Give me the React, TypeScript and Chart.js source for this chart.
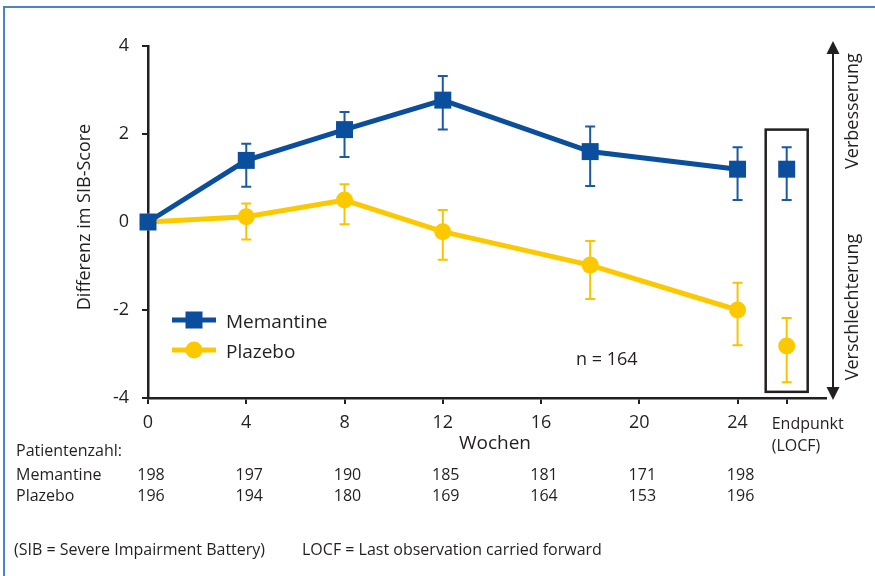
import React, { useEffect, useRef } from 'react';
import { Chart, registerables } from 'chart.js';

Chart.register(...registerables);

// ---- data ----
const weeks = [0, 4, 8, 12, 18, 24];
const memantineMean = [0, 1.4, 2.1, 2.77, 1.6, 1.2];
const memantineLow = [0, 0.8, 1.48, 2.1, 0.82, 0.5];
const memantineHigh = [0, 1.78, 2.5, 3.32, 2.17, 1.7];
const plazeboMean = [0, 0.12, 0.5, -0.22, -0.98, -2.0];
const plazeboLow = [0, -0.4, -0.05, -0.86, -1.75, -2.8];
const plazeboHigh = [0, 0.42, 0.86, 0.27, -0.43, -1.38];

const endpointX = 26;
const memantineEnd = [1.2];
const memantineEndLow = [0.5];
const memantineEndHigh = [1.7];
const plazeboEnd = [-2.82];
const plazeboEndLow = [-3.64];
const plazeboEndHigh = [-2.18];

const xTicks = [0, 4, 8, 12, 16, 20, 24];
const tableWeeks = [0, 4, 8, 12, 16, 20, 24];
const memantineN = [198, 197, 190, 185, 181, 171, 198];
const plazeboN = [196, 194, 180, 169, 164, 153, 196];

const seriesNames = ['Memantine', 'Plazebo'];

// ---- styles ----
const BLUE = '#0b4f9c';
const BLUE_ERR = '#1a5aa5';
const YELLOW = '#fcc900';
const YELLOW_ERR = '#f7c500';
const TEXT = '#231f20';
const AXIS = '#231f20';
const FRAME = '#4a84c4';
const FONT = "'Open Sans', 'Noto Sans', sans-serif";

const f = (size: number) => `${size}px ${FONT}`;

const overlay = {
  id: 'overlay',
  beforeDraw(chart: any) {
    const { ctx, width, height } = chart;
    ctx.save();
    ctx.fillStyle = '#ffffff';
    ctx.fillRect(0, 0, width, height);
    ctx.strokeStyle = FRAME;
    ctx.lineWidth = 2;
    ctx.beginPath();
    ctx.moveTo(4, height);
    ctx.lineTo(4, 7);
    ctx.lineTo(width, 7);
    ctx.stroke();
    ctx.restore();
  },
  beforeDatasetsDraw(chart: any) {
    const { ctx } = chart;
    const xs = chart.scales.x;
    const ys = chart.scales.y;
    ctx.save();
    chart.data.datasets.forEach((ds: any) => {
      ctx.strokeStyle = ds.errColor;
      ctx.lineWidth = 2;
      ds.data.forEach((p: any, i: number) => {
        const lo = ds.errLow[i];
        const hi = ds.errHigh[i];
        if (lo === hi) return;
        const x = xs.getPixelForValue(p.x);
        const y1 = ys.getPixelForValue(lo);
        const y2 = ys.getPixelForValue(hi);
        ctx.beginPath();
        ctx.moveTo(x, y1);
        ctx.lineTo(x, y2);
        ctx.moveTo(x - 5, y1);
        ctx.lineTo(x + 5, y1);
        ctx.moveTo(x - 5, y2);
        ctx.lineTo(x + 5, y2);
        ctx.stroke();
      });
    });
    ctx.restore();
  },
  afterDraw(chart: any) {
    const { ctx, chartArea } = chart;
    const xs = chart.scales.x;
    const ys = chart.scales.y;
    ctx.save();

    // endpoint box
    const ex = xs.getPixelForValue(endpointX);
    ctx.strokeStyle = AXIS;
    ctx.lineWidth = 2.5;
    ctx.strokeRect(ex - 21, ys.getPixelForValue(2.1), 42, ys.getPixelForValue(-3.86) - ys.getPixelForValue(2.1));

    // double arrow
    const ax = chartArea.right + 7;
    const topY = ys.getPixelForValue(4) - 5;
    const botY = chartArea.bottom + 2;
    ctx.strokeStyle = AXIS;
    ctx.fillStyle = AXIS;
    ctx.lineWidth = 2;
    ctx.beginPath();
    ctx.moveTo(ax, topY + 10);
    ctx.lineTo(ax, botY - 10);
    ctx.stroke();
    ctx.beginPath();
    ctx.moveTo(ax, topY);
    ctx.lineTo(ax - 6.5, topY + 13);
    ctx.lineTo(ax + 6.5, topY + 13);
    ctx.closePath();
    ctx.fill();
    ctx.beginPath();
    ctx.moveTo(ax, botY);
    ctx.lineTo(ax - 6.5, botY - 13);
    ctx.lineTo(ax + 6.5, botY - 13);
    ctx.closePath();
    ctx.fill();

    ctx.fillStyle = TEXT;
    // rotated texts
    const rot = (text: string, x: number, y: number, size: number) => {
      ctx.save();
      ctx.translate(x, y);
      ctx.rotate(-Math.PI / 2);
      ctx.textAlign = 'center';
      ctx.textBaseline = 'middle';
      ctx.font = f(size);
      ctx.fillText(text, 0, 0);
      ctx.restore();
    };
    rot('Differenz im SIB-Score', 85, 217, 18);
    rot('Verbesserung', 853, 111, 18);
    rot('Verschlechterung', 853, 307, 18);

    ctx.textBaseline = 'alphabetic';
    // x title
    ctx.textAlign = 'center';
    ctx.font = f(19);
    ctx.fillText('Wochen', 495, 449);

    // endpoint label
    ctx.textAlign = 'left';
    ctx.font = f(16);
    ctx.fillText('Endpunkt', ex - 15, 429);
    ctx.fillText('(LOCF)', ex - 15, 451);

    // legend
    const legend = [
      { name: seriesNames[0], color: BLUE, style: 'rect', y: 320 },
      { name: seriesNames[1], color: YELLOW, style: 'circle', y: 350 },
    ];
    legend.forEach((l) => {
      ctx.strokeStyle = l.color;
      ctx.fillStyle = l.color;
      ctx.lineWidth = 5;
      ctx.beginPath();
      ctx.moveTo(172, l.y);
      ctx.lineTo(216, l.y);
      ctx.stroke();
      if (l.style === 'rect') {
        ctx.fillRect(194 - 8.5, l.y - 8.5, 17, 17);
      } else {
        ctx.beginPath();
        ctx.arc(194, l.y, 8.5, 0, Math.PI * 2);
        ctx.fill();
      }
      ctx.fillStyle = TEXT;
      ctx.font = f(19);
      ctx.textAlign = 'left';
      ctx.fillText(l.name, 226, l.y + 7.5);
    });

    ctx.font = f(18);
    ctx.fillText('n = 164', 576, 365);

    // patient table
    ctx.font = f(16);
    ctx.textAlign = 'left';
    ctx.fillText('Patientenzahl:', 16, 456);
    ctx.fillText(seriesNames[0], 16, 480);
    ctx.fillText(seriesNames[1], 16, 501);
    ctx.textAlign = 'center';
    tableWeeks.forEach((w, i) => {
      const x = xs.getPixelForValue(w) + 3;
      ctx.fillText(String(memantineN[i]), x, 480);
      ctx.fillText(String(plazeboN[i]), x, 501);
    });

    // footnote
    ctx.textAlign = 'left';
    ctx.fillText('(SIB = Severe Impairment Battery)', 14, 555);
    ctx.fillText('LOCF = Last observation carried forward', 302, 555);

    ctx.restore();
  },
};

export default function App() {
  const ref = useRef<HTMLCanvasElement>(null);

  useEffect(() => {
    if (!ref.current) return;
    Chart.defaults.font.family = FONT;
    Chart.defaults.color = TEXT;

    const chart = new Chart(ref.current, {
      type: 'line',
      data: {
        datasets: [
          {
            label: seriesNames[0],
            data: weeks.map((w, i) => ({ x: w, y: memantineMean[i] })),
            borderColor: BLUE,
            backgroundColor: BLUE,
            borderWidth: 5,
            pointStyle: 'rect',
            pointRadius: 12,
            pointBorderWidth: 0,
            tension: 0,
            clip: false,
            errLow: memantineLow,
            errHigh: memantineHigh,
            errColor: BLUE_ERR,
          } as any,
          {
            label: seriesNames[1],
            data: weeks.map((w, i) => ({ x: w, y: plazeboMean[i] })),
            borderColor: YELLOW,
            backgroundColor: YELLOW,
            borderWidth: 5,
            pointStyle: 'circle',
            pointRadius: 8.5,
            pointBorderWidth: 0,
            tension: 0,
            clip: false,
            errLow: plazeboLow,
            errHigh: plazeboHigh,
            errColor: YELLOW_ERR,
          } as any,
          {
            label: seriesNames[0] + ' Endpunkt',
            data: memantineEnd.map((v) => ({ x: endpointX, y: v })),
            showLine: false,
            borderColor: BLUE,
            backgroundColor: BLUE,
            pointStyle: 'rect',
            pointRadius: 12,
            pointBorderWidth: 0,
            clip: false,
            errLow: memantineEndLow,
            errHigh: memantineEndHigh,
            errColor: BLUE_ERR,
          } as any,
          {
            label: seriesNames[1] + ' Endpunkt',
            data: plazeboEnd.map((v) => ({ x: endpointX, y: v })),
            showLine: false,
            borderColor: YELLOW,
            backgroundColor: YELLOW,
            pointStyle: 'circle',
            pointRadius: 8.5,
            pointBorderWidth: 0,
            clip: false,
            errLow: plazeboEndLow,
            errHigh: plazeboEndHigh,
            errColor: YELLOW_ERR,
          } as any,
        ],
      },
      options: {
        responsive: false,
        animation: false,
        events: [],
        layout: { padding: { left: 0, top: 46, right: 49, bottom: 0 } },
        plugins: { legend: { display: false }, tooltip: { enabled: false } },
        scales: {
          x: {
            type: 'linear',
            min: 0,
            max: 27.6,
            afterFit: (s: any) => {
              s.height = 178;
            },
            afterBuildTicks: (s: any) => {
              s.ticks = [...xTicks, endpointX].map((v) => ({ value: v }));
            },
            border: { display: true, color: AXIS, width: 2.5 },
            grid: { drawOnChartArea: false, drawTicks: true, tickLength: 6, color: AXIS, lineWidth: 2 },
            ticks: {
              autoSkip: false,
              maxRotation: 0,
              padding: 8,
              color: TEXT,
              font: { size: 18, family: FONT },
              callback: (v: any) => (v === endpointX ? '' : String(v)),
            },
          },
          y: {
            min: -4,
            max: 4,
            afterFit: (s: any) => {
              s.width = 148;
            },
            border: { display: true, color: AXIS, width: 2.5 },
            grid: { drawOnChartArea: false, drawTicks: true, tickLength: 6, color: AXIS, lineWidth: 2 },
            ticks: {
              stepSize: 2,
              padding: 13,
              color: TEXT,
              font: { size: 18, family: FONT },
            },
          },
        },
      } as any,
      plugins: [overlay],
    });
    return () => chart.destroy();
  }, []);

  return (
    <div style={{ position: 'absolute', left: 0, top: 0, width: 875, height: 576 }}>
      <canvas ref={ref} width={875} height={576} style={{ display: 'block', width: 875, height: 576 }} />
    </div>
  );
}
